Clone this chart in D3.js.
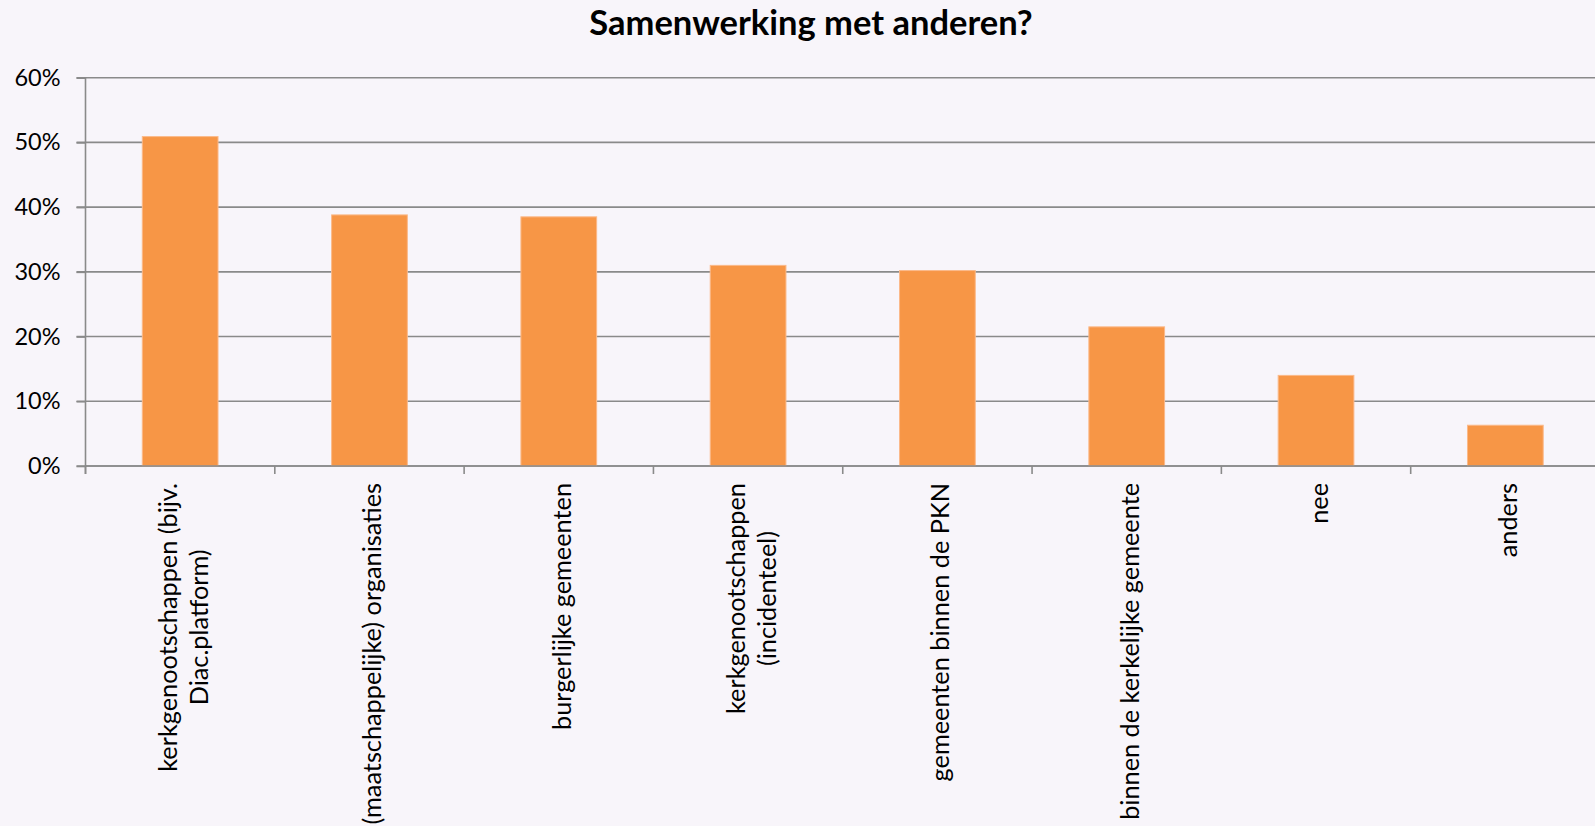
<!DOCTYPE html>
<html><head><meta charset="utf-8">
<script src="https://cdn.jsdelivr.net/npm/d3@7"></script>
<style>body{margin:0;background:#f8f5fa;overflow:hidden} svg{display:block}</style>
</head><body><svg id="c" width="1595" height="826"></svg>
<script>
const title = "Samenwerking met anderen?";
const categories = [
  "kerkgenootschappen (bijv.|Diac.platform)",
  "(maatschappelijke) organisaties",
  "burgerlijke gemeenten",
  "kerkgenootschappen|(incidenteel)",
  "gemeenten binnen de PKN",
  "binnen de kerkelijke gemeente",
  "nee",
  "anders"
];
const values = [50.9, 38.8, 38.5, 31.0, 30.2, 21.5, 14.0, 6.3];
const yTicks = [0, 10, 20, 30, 40, 50, 60];

(function () {
const W = 1595, H = 826;
const mLeft = 85.5, mRight = 1600, mTop = 77.7, mBottom = 466;
const font = "Lato, 'Open Sans', sans-serif";
const svg = d3.select("#c");
svg.append("rect").attr("width", W).attr("height", H).attr("fill", "#f8f5fa");

const x = d3.scaleBand().domain(categories).range([mLeft, mRight]).paddingInner(0.6).paddingOuter(0.3);
const y = d3.scaleLinear().domain([0, 60]).range([mBottom, mTop]);

// gridlines
svg.append("g").selectAll("line").data(yTicks).join("line")
  .attr("x1", mLeft - 9).attr("x2", W)
  .attr("y1", d => y(d)).attr("y2", d => y(d))
  .attr("stroke", "#8a8a8a").attr("stroke-width", 1.6);

// y axis
const yAxis = svg.append("g").attr("transform", `translate(${mLeft},0)`)
  .call(d3.axisLeft(y).tickValues(yTicks).tickFormat(d => d + "%").tickSize(9).tickPadding(16));
yAxis.select(".domain").remove();
yAxis.selectAll("line").attr("stroke", "#8a8a8a").attr("stroke-width", 1.6);
yAxis.selectAll("text").attr("font-family", font).attr("font-size", 23.5).attr("fill", "#000");
svg.append("line").attr("x1", mLeft).attr("x2", mLeft).attr("y1", mTop).attr("y2", mBottom + 8)
  .attr("stroke", "#8a8a8a").attr("stroke-width", 1.6);

// bars
svg.append("g").selectAll("rect").data(values).join("rect")
  .attr("x", (d, i) => x(categories[i]))
  .attr("width", x.bandwidth())
  .attr("y", d => y(d))
  .attr("height", d => y(0) - y(d))
  .attr("fill", "#f79646")
  .attr("stroke", "#fbb989").attr("stroke-width", 1);

// x axis baseline + boundary ticks
const step = x.step();
const bounds = d3.range(categories.length + 1).map(i => mLeft + i * step);
svg.append("line").attr("x1", mLeft).attr("x2", W).attr("y1", mBottom).attr("y2", mBottom)
  .attr("stroke", "#8a8a8a").attr("stroke-width", 1.6);
svg.append("g").selectAll("line").data(bounds).join("line")
  .attr("x1", d => d).attr("x2", d => d).attr("y1", mBottom).attr("y2", mBottom + 8)
  .attr("stroke", "#8a8a8a").attr("stroke-width", 1.6);

// category labels
const lab = svg.append("g").selectAll("g").data(categories).join("g")
  .attr("transform", d => `translate(${x(d) + x.bandwidth() / 2},483) rotate(-90)`);
lab.each(function (d) {
  const lines = d.split("|");
  const g = d3.select(this);
  const t = g.append("text").attr("font-family", font).attr("font-size", 25.3).attr("fill", "#000")
    .attr("text-anchor", "middle").attr("dominant-baseline", "central");
  lines.forEach((l, i) => {
    t.append("tspan").attr("x", 0).attr("y", (i - (lines.length - 1) / 2) * 31 + 2).text(l);
  });
  const L = t.node().getBBox().width;
  t.selectAll("tspan").attr("x", -L / 2);
});

// title
svg.append("text").attr("x", 811).attr("y", 35).attr("text-anchor", "middle")
  .attr("font-family", font).attr("font-weight", "bold").attr("font-size", 34.5).attr("fill", "#000")
  .text(title);
})();
</script></body></html>
